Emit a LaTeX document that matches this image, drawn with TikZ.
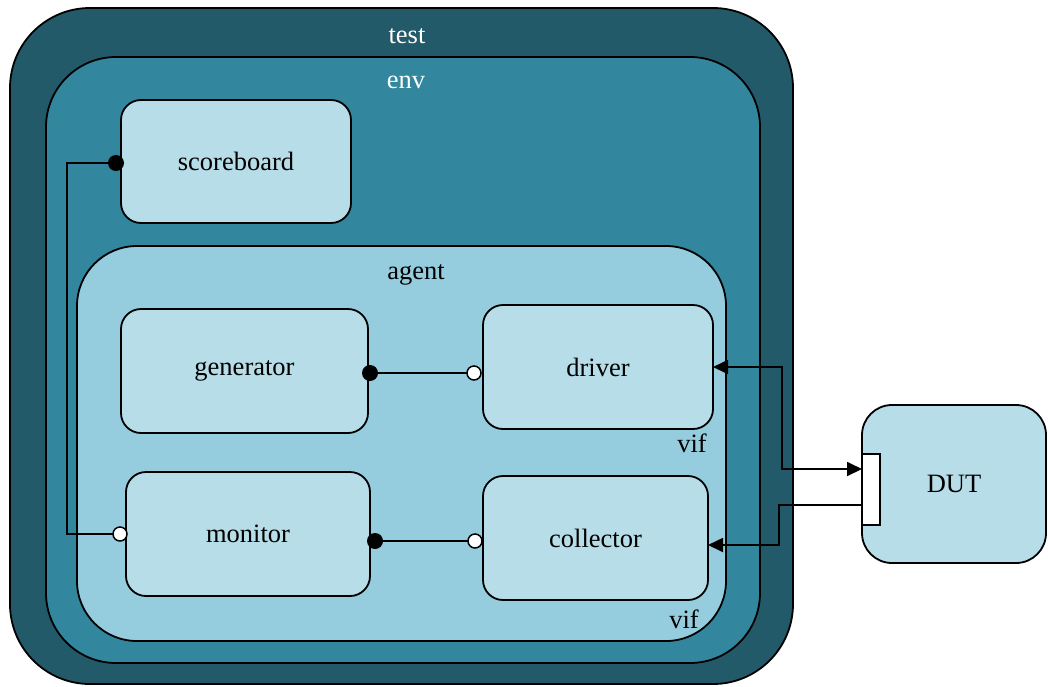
\documentclass[tikz,border=0pt]{standalone}
\usepackage{fontspec}
\setmainfont{Liberation Serif}
\usetikzlibrary{arrows.meta,calc}
\definecolor{testfill}{RGB}{35,90,105}
\definecolor{envfill}{RGB}{50,134,158}
\definecolor{agentfill}{RGB}{149,205,223}
\definecolor{compfill}{RGB}{183,221,232}
\begin{document}
\begin{tikzpicture}[x=1pt,y=-1pt,
  every node/.style={font=\fontsize{26.5}{31}\selectfont},
  box/.style={draw=black,line width=1.8pt,rectangle,inner sep=0pt,outer sep=0pt},
  comp/.style={box,fill=compfill,rounded corners=20pt},
  conn/.style={line width=1.8pt},
  tip/.style={-{Triangle[length=15pt,width=14pt]}},
  both/.style={{Triangle[length=15pt,width=14pt]}-{Triangle[length=15pt,width=14pt]}},
  provider/.style={circle,fill=black,inner sep=0pt,minimum size=16pt},
  user/.style={circle,draw=black,fill=white,line width=1.5pt,inner sep=0pt,minimum size=14pt},
  lbl/.style={inner sep=0pt}]
\useasboundingbox (0,0) rectangle (1048,686);

% nested containers
\node[box,fill=testfill,rounded corners=80pt,minimum width=783pt,minimum height=676pt] (test) at (401.5,346) {};
\node[box,fill=envfill,rounded corners=70pt,minimum width=714pt,minimum height=606pt] (env) at (403,360) {};
\node[box,fill=agentfill,rounded corners=60pt,minimum width=649pt,minimum height=395pt] (agent) at (401.5,443.5) {};

\node[lbl,text=white] (testlbl) at (407,36) {test};
\node[lbl,text=white] (envlbl) at (406,82) {env};
\node[lbl] (agentlbl) at (416,275) {agent};

% components
\node[comp,minimum width=230pt,minimum height=123pt] (scoreboard) at (236,161.5) {scoreboard};
\node[comp,minimum width=247pt,minimum height=124pt] (generator) at (244.5,371) {generator};
\node[comp,minimum width=230pt,minimum height=124pt] (driver) at (598,367) {driver};
\node[comp,minimum width=244pt,minimum height=124pt] (monitor) at (248,534) {monitor};
\node[comp,minimum width=225pt,minimum height=124pt] (collector) at (595.5,538) {collector};
\node[comp,rounded corners=30pt,minimum width=184pt,minimum height=158pt] (dut) at (954,484) {DUT};
\node[box,fill=white,minimum width=18pt,minimum height=71pt] (port) at (871,489.5) {};

\node[lbl] (vifa) at (692,443) {vif};
\node[lbl] (vifb) at (684,619) {vif};

% virtual interface wiring
\coordinate (pin) at ($(port.north west)+(0,15)$);
\coordinate (pout) at ($(port.north west)+(0,51)$);
\draw[conn,both] (driver.east) -- ++(69,0) |- (pin);
\draw[conn,tip] (pout) -- ++(-83,0) |- ($(collector.east)+(0,7)$);

% analysis / sequence ports
\coordinate (genport) at ($(generator.east)+(2,2)$);
\coordinate (drvport) at ($(driver.west)+(-9,6)$);
\draw[conn] (genport) -- (drvport);
\node[provider] (gendot) at (genport) {};
\node[user] (drvdot) at (drvport) {};

\coordinate (monport) at ($(monitor.east)+(5,7)$);
\coordinate (colport) at ($(collector.west)+(-8,3)$);
\draw[conn] (monport) -- (colport);
\node[provider] (mondot) at (monport) {};
\node[user] (coldot) at (colport) {};

\coordinate (sbport) at ($(scoreboard.west)+(-5,1.5)$);
\coordinate (mnport) at ($(monitor.west)+(-6,0)$);
\draw[conn] (sbport) -- ++(-49,0) |- (mnport);
\node[provider] (sbdot) at (sbport) {};
\node[user] (mndot) at (mnport) {};
\end{tikzpicture}
\end{document}
